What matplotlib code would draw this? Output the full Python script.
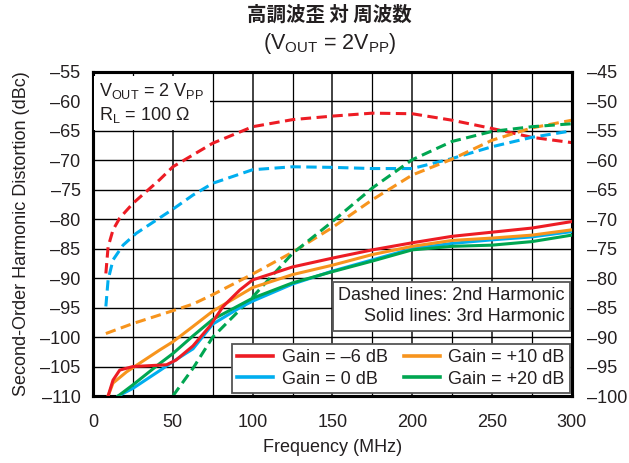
import matplotlib
matplotlib.use("Agg")
import matplotlib.pyplot as plt
from matplotlib.lines import Line2D

plt.rcParams['font.family'] = ['Liberation Sans', 'Noto Sans CJK JP', 'DejaVu Sans']
plt.rcParams['mathtext.fontset'] = 'custom'
plt.rcParams['mathtext.rm'] = 'Liberation Sans'
plt.rcParams['mathtext.it'] = 'Liberation Sans:italic'
plt.rcParams['mathtext.bf'] = 'Liberation Sans:bold'

# ---- data (frequency MHz, distortion dBc) ----
# 2nd harmonic (dashed, left axis)
f2_m6 = [8, 9.4, 12.5, 16.7, 25, 41.7, 50, 75, 100, 125, 150, 175, 200, 225, 250, 275, 300]
h2_m6 = [-89.2, -84.7, -81.8, -79.8, -77.3, -73.3, -71.1, -67.1, -64.3, -63.1, -62.5, -62.0, -62.1, -63.2, -64.6, -66.1, -67.0]
f2_0 = [8, 9.4, 12.5, 18.8, 27, 50, 62.6, 75, 100, 125, 150, 175, 200, 225, 250, 275, 300]
h2_0 = [-94.8, -90.3, -86.9, -84.4, -82.4, -78.3, -75.9, -73.9, -71.6, -71.1, -71.2, -71.4, -71.4, -69.7, -67.7, -66.1, -65.0]
f2_10 = [8, 25, 48, 62.6, 75, 100, 125, 150, 175, 200, 225, 250, 275, 300]
h2_10 = [-99.4, -97.7, -95.7, -94.4, -92.8, -89.3, -85.6, -81.4, -76.7, -72.5, -69.8, -66.6, -64.5, -63.2]
f2_20 = [50, 62.6, 75, 100, 125, 150, 175, 200, 225, 250, 275, 300]
h2_20 = [-110, -105.3, -100, -93.2, -85.8, -80.4, -74.7, -69.9, -66.8, -65.1, -64.3, -63.8]

# 3rd harmonic (solid, right axis)
f3_m6 = [9.4, 12.5, 16.7, 25, 46, 52, 62.6, 73, 81.5, 92, 100, 125, 150, 175, 200, 225, 250, 275, 300]
h3_m6 = [-100, -97.3, -95.6, -95.0, -94.7, -93.9, -91.5, -88.2, -84.8, -82.0, -80.3, -78.1, -76.6, -75.2, -74.0, -72.9, -72.2, -71.5, -70.4]
f3_0 = [15.7, 25, 41.7, 51, 62.6, 75, 92, 100, 125, 150, 175, 200, 225, 250, 275, 300]
h3_0 = [-100, -98.7, -95.7, -94.0, -92.0, -87.8, -85.0, -83.9, -81.0, -78.8, -76.9, -75.0, -74.1, -73.5, -73.0, -72.1]
f3_10 = [9.4, 12.5, 21, 41.7, 50, 62.6, 75, 100, 125, 150, 175, 200, 225, 250, 275, 300]
h3_10 = [-100, -97.8, -95.9, -92.2, -90.8, -88.2, -85.6, -81.6, -79.4, -77.8, -76.0, -74.6, -73.6, -73.2, -72.7, -71.8]
f3_20 = [15.7, 25, 41.7, 50, 62.6, 75, 100, 125, 150, 175, 200, 225, 250, 275, 300]
h3_20 = [-100, -98.1, -94.5, -92.8, -89.8, -87.0, -83.4, -80.8, -78.9, -77.1, -75.2, -74.6, -74.4, -73.8, -72.7]

gain_labels = ['Gain = \u20136 dB', 'Gain = 0 dB', 'Gain = +10 dB', 'Gain = +20 dB']
colors = ['#ed1c24', '#00aeef', '#f7941d', '#00a651']

left_ticks = [-55, -60, -65, -70, -75, -80, -85, -90, -95, -100, -105, -110]
right_ticks = [-45, -50, -55, -60, -65, -70, -75, -80, -85, -90, -95, -100]
x_ticks = [0, 50, 100, 150, 200, 250, 300]

FS = 13
TXT = '#231f20'

fig = plt.figure(figsize=(6.29, 4.63), dpi=100)
ax = fig.add_axes([0.148, 0.1447, 0.761, 0.700])
ax2 = ax.twinx()

ax.set_xlim(0, 300)
ax.set_ylim(-110, -55)
ax2.set_ylim(-100, -45)

# grid: major (labelled) lines slightly heavier, 25 MHz minor lines thin
ax.set_xticks(x_ticks)
ax.set_xticks(range(25, 300, 50), minor=True)
ax.set_yticks(left_ticks)
ax.grid(True, which='major', axis='y', color='black', lw=1.0)
ax.grid(True, which='major', axis='x', color='#222222', lw=1.2)
ax.grid(True, which='minor', axis='x', color='black', lw=0.9)
ax.set_axisbelow(True)

ax.set_xticklabels([str(t) for t in x_ticks])
ax.set_yticklabels([str(t).replace('-', '\u2013') for t in left_ticks])
ax2.set_yticks(right_ticks)
ax2.set_yticklabels([str(t).replace('-', '\u2013') for t in right_ticks])

ax.tick_params(axis='y', which='both', length=0, labelsize=FS, pad=9, colors=TXT)
ax.tick_params(axis='x', which='both', length=0, labelsize=FS, pad=13, colors=TXT)
ax2.tick_params(axis='y', which='both', length=0, labelsize=FS, pad=11, colors=TXT)
for a in (ax, ax2):
    for s in a.spines.values():
        s.set_linewidth(2.2)
        s.set_color('black')

ax.set_xlabel('Frequency (MHz)', fontsize=FS, color=TXT, labelpad=6)
ax.set_ylabel('Second-Order Harmonic Distortion (dBc)', fontsize=FS, color=TXT, labelpad=7)

dash = (3.4, 1.8)
lw = 2.2
for fx, hy, c in [(f2_m6, h2_m6, colors[0]), (f2_0, h2_0, colors[1]),
                  (f2_10, h2_10, colors[2]), (f2_20, h2_20, colors[3])]:
    ax.plot(fx, hy, color=c, lw=lw, dashes=dash, solid_capstyle='butt', zorder=3)

for fx, hy, c in [(f3_0, h3_0, colors[1]), (f3_20, h3_20, colors[3]),
                  (f3_10, h3_10, colors[2]), (f3_m6, h3_m6, colors[0])]:
    ax2.plot(fx, hy, color=c, lw=lw, zorder=3)

# Annotation box (top-left)
ax2.text(0.013, 0.972, 'V$_{\\mathrm{OUT}}$ = 2 V$_{\\mathrm{PP}}$\nR$_{\\mathrm{L}}$ = 100 \u03a9',
         transform=ax.transAxes, ha='left', va='top', fontsize=FS, color=TXT,
         linespacing=1.25,
         bbox=dict(boxstyle='square,pad=0.3', fc='white', ec='none'), zorder=5)

# Dashed/solid note
ax2.text(0.985, 0.335, 'Dashed lines: 2nd Harmonic\nSolid lines: 3rd Harmonic',
         transform=ax.transAxes, ha='right', va='top', fontsize=FS, color=TXT,
         multialignment='right', linespacing=1.3,
         bbox=dict(boxstyle='square,pad=0.3', fc='white', ec='#555555', lw=1.3), zorder=5)

handles = [Line2D([], [], color=c, lw=2.6) for c in colors]
leg = ax2.legend(handles, gain_labels, ncol=2, loc='lower right',
                 bbox_to_anchor=(0.996, 0.009), fontsize=FS, frameon=True, fancybox=False,
                 edgecolor='#555555', framealpha=1, handlelength=2.0, handletextpad=0.45,
                 columnspacing=0.9, borderpad=0.3, labelspacing=0.25, borderaxespad=0)
leg.get_frame().set_linewidth(1.3)
leg.set_zorder(6)
for t in leg.get_texts():
    t.set_color(TXT)

fig.text(0.523, 0.968, '高調波歪 対 周波数', ha='center', va='center', fontsize=14,
         fontweight='bold', family=['Noto Sans CJK JP', 'DejaVu Sans'], color=TXT)
fig.text(0.525, 0.907, '(V$_{\\mathrm{OUT}}$ = 2V$_{\\mathrm{PP}}$)', ha='center', va='center',
         fontsize=15.5, color=TXT)

fig.savefig('out.png', dpi=100)
